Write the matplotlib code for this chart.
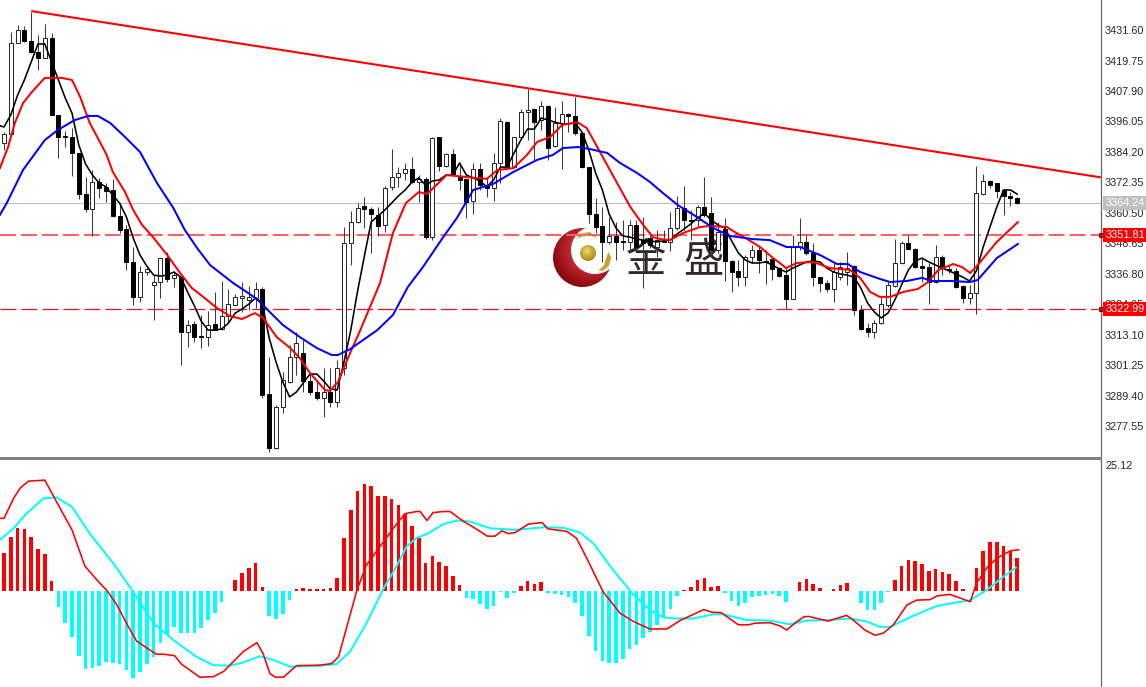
import numpy as np
import matplotlib
matplotlib.use("Agg")
import matplotlib.pyplot as plt
from matplotlib.patches import Circle, Polygon, Rectangle

# ---------- candles ----------
opens = [3387.7,3391.2,3426.6,3431.6,3427.3,3423.1,3420.7,3428.5,3398.6,3390.4,3390.0,3383.8,3367.8,3362.0,3372.5,3370.6,3369.4,3359.3,3354.2,3341.4,
3327.8,3337.5,3332.4,3333.6,3342.9,3335.2,3335.5,3314.2,3317.3,3312.6,3312.2,3317.3,3315.3,3320.4,3324.7,3327.4,3326.6,3327.4,3330.9,3290.0,
3269.0,3285.0,3294.7,3304.4,3306.0,3295.1,3290.8,3288.5,3290.8,3286.9,3300.1,3348.8,3357.0,3363.2,3362.0,3359.7,3355.8,3370.6,3374.4,3376.0,
3377.6,3372.5,3373.7,3351.1,3390.0,3378.7,3383.4,3374.4,3373.7,3365.1,3377.6,3371.3,3370.2,3379.9,3395.8,3378.3,3390.0,3399.7,3400.9,3396.6,
3402.0,3386.5,3395.4,3399.0,3398.2,3391.6,3378.3,3360.0,3355.4,3349.2,3351.5,3349.6,3349.2,3355.8,3349.9,3350.7,3347.2,3349.6,3349.2,3354.6,
3362.4,3357.7,3357.7,3362.8,3360.4,3346.0,3354.2,3341.8,3337.9,3335.5,3343.3,3346.0,3341.8,3342.5,3339.0,3336.3,3327.0,3347.2,3349.2,3344.9,
3335.5,3333.2,3330.9,3335.5,3337.5,3339.8,3322.7,3315.7,3314.2,3317.6,3324.6,3332.0,3341.0,3348.8,3346.4,3339.8,3339.4,3333.6,3343.3,3338.7,
3337.9,3332.0,3327.4,3329.3,3367.8,3372.9,3372.1,3369.4,3367.1,3366.3]
highs = [3391.9,3430.8,3433.6,3433.2,3438.6,3429.7,3434.0,3430.5,3398.6,3392.3,3393.5,3383.8,3374.4,3377.2,3374.1,3372.1,3373.7,3364.3,3355.8,3347.2,
3339.8,3339.8,3336.3,3342.9,3345.3,3337.5,3335.5,3318.8,3318.4,3320.8,3322.3,3329.7,3334.0,3330.9,3328.9,3333.6,3332.0,3333.6,3331.6,3304.4,
3285.8,3298.6,3309.1,3314.2,3311.0,3298.2,3295.5,3300.1,3300.1,3303.3,3355.0,3361.2,3364.3,3366.7,3362.8,3362.8,3370.9,3385.3,3378.3,3379.9,
3382.2,3375.2,3374.4,3390.0,3390.0,3383.8,3385.3,3379.1,3373.7,3379.9,3379.9,3374.4,3383.8,3397.4,3396.2,3390.0,3400.9,3408.7,3401.3,3404.0,
3402.4,3401.7,3404.0,3399.3,3405.6,3391.9,3378.3,3366.3,3362.8,3358.9,3356.9,3357.7,3357.7,3357.7,3358.9,3353.0,3353.8,3353.8,3360.8,3367.1,
3370.9,3361.6,3363.6,3374.4,3366.7,3357.0,3358.5,3342.2,3342.2,3344.1,3348.0,3347.6,3346.0,3343.3,3339.4,3339.0,3351.9,3358.5,3351.9,3348.8,
3335.5,3334.4,3341.0,3341.4,3345.3,3340.2,3324.7,3317.6,3318.8,3327.8,3333.6,3350.3,3349.5,3351.9,3346.8,3342.9,3341.0,3348.0,3344.1,3340.2,
3339.0,3332.4,3332.4,3378.7,3375.6,3373.3,3372.1,3369.8,3368.6,3366.7]
lows = [3384.9,3390.4,3426.6,3426.9,3422.7,3416.0,3420.7,3398.6,3381.8,3386.1,3374.8,3365.9,3360.8,3351.5,3366.3,3364.7,3358.9,3352.7,3338.3,3324.7,
3325.8,3336.3,3318.8,3327.4,3333.6,3331.6,3301.3,3308.3,3310.3,3307.9,3308.7,3314.9,3314.9,3318.0,3324.7,3321.9,3322.7,3323.5,3288.5,3267.5,
3268.6,3282.6,3294.3,3297.4,3290.8,3289.6,3287.7,3281.1,3285.0,3285.0,3297.4,3340.2,3356.5,3354.6,3344.9,3351.5,3353.0,3369.4,3370.6,3373.3,
3372.1,3364.7,3350.3,3349.9,3376.8,3378.3,3375.2,3369.4,3358.5,3360.0,3369.4,3366.7,3365.1,3372.1,3377.9,3377.9,3390.0,3388.8,3381.1,3392.7,
3381.1,3386.1,3377.6,3391.9,3390.8,3377.9,3356.5,3352.7,3341.4,3348.4,3342.2,3346.0,3346.0,3346.0,3331.3,3346.8,3343.3,3349.2,3345.7,3353.8,
3353.8,3350.0,3355.0,3358.9,3344.1,3344.9,3334.0,3329.7,3332.0,3332.0,3341.0,3337.1,3332.8,3334.4,3335.5,3323.1,3327.0,3346.0,3344.1,3332.0,
3329.7,3329.7,3325.8,3334.4,3332.4,3320.8,3314.9,3312.2,3311.8,3317.3,3323.9,3331.6,3340.6,3346.4,3339.0,3333.6,3325.0,3333.2,3336.3,3337.1,
3331.3,3325.4,3325.0,3321.2,3367.4,3370.2,3366.3,3359.7,3363.2,3364.0]
closes = [3391.2,3426.6,3431.6,3427.3,3423.1,3420.7,3428.5,3398.6,3390.0,3390.0,3383.8,3367.8,3362.0,3372.5,3370.2,3369.0,3359.3,3353.8,3341.4,3327.8,
3337.5,3338.7,3333.6,3342.9,3334.8,3336.3,3314.2,3316.9,3312.2,3312.2,3316.9,3314.9,3320.4,3325.0,3327.8,3328.2,3327.8,3330.9,3289.6,3269.0,
3285.0,3295.5,3304.4,3309.9,3295.1,3290.8,3288.5,3290.8,3286.9,3300.1,3348.8,3357.0,3362.4,3362.0,3360.0,3355.4,3370.2,3374.4,3376.0,3377.6,
3372.5,3373.7,3351.1,3389.6,3378.7,3383.4,3375.6,3373.3,3364.7,3377.6,3371.3,3370.2,3379.9,3396.2,3378.3,3390.0,3399.7,3400.5,3395.8,3402.0,
3385.7,3395.4,3399.0,3398.2,3391.6,3378.3,3360.0,3355.0,3349.2,3351.5,3349.2,3349.2,3355.8,3347.2,3348.8,3348.0,3349.9,3349.2,3354.6,3362.4,
3357.7,3357.3,3362.8,3359.7,3346.0,3353.0,3341.8,3337.5,3335.5,3343.3,3346.0,3342.2,3341.4,3338.7,3335.9,3327.0,3347.2,3349.2,3344.9,3335.5,
3333.2,3330.9,3337.5,3339.4,3339.0,3322.7,3315.3,3314.2,3317.6,3325.0,3332.4,3341.0,3348.8,3346.4,3339.4,3339.0,3333.6,3343.3,3339.4,3338.3,
3331.7,3327.4,3329.3,3368.2,3372.9,3371.3,3369.0,3367.1,3366.3,3364.3]

# ---------- moving averages ----------
ma_fast = [3394.7,3393.9,3398.6,3406.3,3412.2,3419.2,3426.2,3426.2,3419.2,3412.2,3405.2,3399.3,3386.9,3379.5,3375.2,3372.1,3370.6,3367.4,3364.3,3358.9,
3350.7,3344.1,3339.8,3336.3,3335.9,3336.3,3337.5,3335.5,3329.7,3324.3,3318.4,3314.9,3314.9,3315.3,3317.6,3321.5,3323.1,3325.0,3327.4,3325.0,
3311.8,3302.5,3294.7,3288.9,3290.8,3294.3,3297.8,3297.8,3295.1,3292.0,3291.6,3302.5,3314.9,3330.1,3343.7,3357.0,3359.3,3361.6,3364.3,3367.1,
3369.4,3372.5,3374.1,3371.3,3372.9,3373.3,3375.2,3375.2,3379.9,3375.2,3374.1,3372.9,3370.6,3373.3,3378.3,3378.3,3383.8,3388.8,3393.1,3393.1,
3397.4,3396.6,3395.8,3395.1,3395.1,3395.5,3391.9,3384.9,3376.0,3369.4,3360.0,3354.6,3351.5,3351.1,3350.3,3349.9,3349.6,3349.2,3349.6,3349.9,
3352.3,3354.2,3356.2,3358.5,3360.4,3357.7,3355.8,3354.6,3349.6,3344.9,3342.2,3341.0,3341.0,3341.4,3340.2,3338.7,3337.5,3339.0,3340.2,3341.4,
3341.8,3341.4,3339.0,3337.5,3336.7,3336.3,3335.5,3331.3,3325.4,3321.9,3319.6,3321.5,3326.6,3332.4,3338.3,3341.8,3342.9,3341.4,3340.2,3339.0,
3337.9,3336.7,3335.5,3334.0,3337.9,3347.2,3355.0,3362.8,3369.4,3369.4,3367.8]

ma_mid_bar = [-0.6,0.6,1.6,2.8,4.1,6.0,8.5,10.0,11.2,12.6,14.1,15.1,16.0,17.8,19.0,20.3,21.9,24.0,25.9,27.6,29.3,31.3,33.2,35.0,36.9,38.1,40.1,42.1,43.5,45.0,47.2,47.9,49.1,50.9,52.4,55.3,57.2,59.1,61.0,62.2,65.1,68.1,71.0,72.6,74.9,76.9,78.4,80.3,82.1,84.3,85.7,89.1,92.1,94.0,95.4,96.5,97.9,99.9,102.4,103.8,106.3,107.5,109.3,111.2,113.1,114.1,115.0,116.6,119.0,121.5,124.4,125.9,127.4,128.8,130.3,132.2,134.4,135.9,137.4,139.6,140.9,142.1,143.2,146.0,149.1]
ma_mid = [3377.9,3386.1,3395.5,3403.2,3407.5,3413.0,3413.0,3412.2,3405.6,3395.5,3388.1,3383.0,3376.4,3368.6,3361.6,3355.8,3351.1,3344.1,3337.1,3331.3,3327.8,3323.5,3320.4,3319.2,3321.5,3319.6,3312.2,3307.9,3304.0,3298.2,3291.6,3291.2,3294.7,3306.0,3314.9,3333.2,3352.7,3364.3,3368.6,3367.8,3375.2,3374.4,3373.7,3377.2,3377.9,3383.0,3388.1,3390.0,3394.7,3395.8,3393.5,3377.2,3362.8,3355.8,3351.1,3350.3,3349.9,3352.7,3355.0,3355.4,3355.0,3353.0,3350.3,3347.2,3342.9,3341.0,3339.0,3341.0,3341.4,3339.0,3338.3,3335.2,3329.7,3327.8,3327.8,3329.7,3330.9,3333.6,3338.3,3340.6,3339.4,3337.1,3340.2,3349.2,3356.9]

ma_slow_bar = [-0.6,0.4,2.8,6.0,7.9,10.4,12.4,13.8,15.6,17.8,20.0,22.5,24.9,26.6,28.4,30.3,33.7,37.2,39.1,41.0,43.5,46.0,48.2,49.1,50.9,54.9,57.2,59.4,61.6,64.6,66.6,69.0,71.9,74.9,78.4,80.7,82.2,84.4,86.2,88.7,90.6,93.1,95.0,96.9,99.1,101.9,104.3,106.8,110.1,112.6,115.1,117.1,120.0,122.5,124.1,125.9,128.8,130.3,132.8,135.0,136.5,139.1,142.1,143.2,146.0,149.1]
ma_slow = [3359.7,3364.3,3377.2,3388.8,3392.7,3396.6,3398.2,3398.2,3395.5,3390.0,3384.2,3372.1,3362.4,3353.8,3346.8,3340.2,3333.2,3327.0,3321.9,3316.9,3312.2,3307.9,3305.2,3305.2,3307.5,3314.9,3320.8,3331.7,3339.4,3351.1,3358.5,3369.4,3371.7,3376.4,3381.1,3383.0,3385.7,3386.1,3385.3,3383.8,3379.9,3376.0,3372.5,3368.2,3363.5,3358.9,3354.6,3351.5,3350.3,3349.9,3347.2,3347.2,3344.1,3340.6,3340.6,3337.5,3334.8,3333.6,3334.0,3335.2,3334.0,3334.0,3333.6,3334.4,3342.9,3348.4]

trend_bar = [4, 161.3]
trend_price = [3439.0, 3374.3]
level_upper = 3351.81
level_lower = 3322.99
level_last = 3364.24
price_ticks = [3431.60,3419.75,3407.90,3396.05,3384.20,3372.35,3360.50,3348.65,3336.80,3324.95,3313.10,3301.25,3289.40,3277.55]

# ---------- MACD panel ----------
hist = [7.25,10.17,11.95,11.76,10.17,7.95,6.93,1.84,-3.05,-6.10,-8.90,-12.46,-15.0,-14.69,-14.37,-13.54,-13.8,-13.98,-15.13,-16.72,
-15.58,-13.98,-12.71,-9.92,-8.52,-6.93,-8.14,-8.01,-8.01,-7.18,-5.53,-4.2,-2.16,-0.13,1.97,3.37,4.32,5.21,0.7,-4.77,
-5.4,-4.39,-1.78,0.25,0.45,0.32,0.25,0.32,0.45,2.48,9.98,15.38,19.0,20.34,20.03,18.12,17.99,17.48,16.34,14.69,
12.4,10.11,5.21,6.55,5.4,4.7,2.86,1.08,-1.46,-1.59,-2.54,-3.43,-2.86,-0.25,-1.46,-0.45,0.89,1.78,1.27,1.65,
-0.45,-0.7,-0.83,-1.21,-2.29,-4.9,-8.65,-11.44,-13.41,-13.73,-13.73,-13.03,-11.13,-10.3,-9.03,-7.95,-6.55,-5.28,-3.5,-1.08,
0.06,0.7,1.97,2.35,0.76,0.89,-0.45,-1.97,-2.86,-2.29,-1.21,-0.95,-0.83,-0.7,-1.08,-2.16,-0.13,1.59,2.22,1.27,
0.51,-0.06,0.32,1.08,1.46,-0.13,-2.29,-3.69,-3.62,-2.35,-0.19,2.03,4.77,5.79,5.66,5.09,3.75,4.13,3.62,3.12,
1.84,0.32,-0.13,4.32,7.63,9.28,9.28,8.52,7.63,6.17]

macd_red_bar = [-0.6,0,1.4,2.4,3.6,5.0,6.0,8.0,10.0,11.9,13.9,15.1,16.6,18.3,19.5,21.2,22.4,23.4,25.1,26.1,28.8,30.8,32.3,35.2,37.2,38.1,39.1,39.9,41.1,43.0,46.5,48.2,49.2,51.9,53.3,58.0,59.0,60.7,61.2,62.2,63.1,64.6,65.6,67.6,68.8,71.1,72.2,73.2,74.2,75.2,77.1,79.1,80.0,82.8,84.2,85.7,88.1,90.6,92.6,95.0,97.5,99.4,101.4,102.9,104.1,105.5,108.0,109.5,110.4,112.6,114.1,115.1,116.3,117.6,118.3,121.2,123.9,124.9,126.6,128.1,129.3,130.8,132.8,134.2,136.2,137.2,139.1,142.1,143.0,144.5,146.0,148.0,149.2]
macd_red = [13.8,13.8,17.6,19.6,20.9,21.0,21.1,16.3,11.6,4.7,1.7,0.1,-2.7,-6.9,-9.6,-11.1,-12.1,-12.1,-12.4,-14.0,-16.5,-16.4,-15.4,-11.6,-9.9,-12.0,-15.8,-16.5,-16.5,-14.3,-14.2,-13.9,-12.6,0.1,4.9,13.2,14.7,15.1,15.1,13.4,14.9,15.1,15.1,13.2,12.3,10.4,10.4,11.4,10.9,11.1,12.7,13.0,11.8,11.3,10.0,6.2,-0.2,-4.3,-5.9,-7.3,-7.3,-5.7,-4.5,-3.6,-4.1,-4.2,-6.5,-6.5,-6.2,-6.1,-6.7,-7.5,-6.2,-5.0,-4.9,-5.8,-4.7,-5.6,-7.5,-8.5,-8.1,-6.5,-2.7,-1.8,-1.7,-1.0,-0.7,-2.1,1.4,4.3,6.2,7.6,7.8]

macd_cyan_bar = [-0.6,1.4,3.3,5.8,7.7,10.0,12.6,16.1,19.0,22.0,24.9,28.3,30.8,33.2,35.2,37.6,39.6,42.1,46.5,48.9,50.9,53.3,55.8,57.7,59.2,60.7,62.2,64.6,66.6,68.5,71.5,75.4,79.3,82.3,84.7,86.7,89.6,92.6,95.0,97.0,98.9,101.4,104.3,105.8,109.2,112.6,115.6,118.0,121.0,124.4,126.9,128.8,130.3,133.7,137.2,142.1,144.5,147.0,148.8]
macd_cyan = [9.7,11.9,14.7,17.6,17.8,16.0,10.9,5.2,-0.2,-6.2,-9.4,-12.6,-14.2,-14.3,-13.7,-12.5,-13.2,-14.5,-14.3,-14.0,-11.6,-6.2,0.4,4.6,8.4,10.1,10.8,12.7,13.4,13.2,11.9,11.6,12.1,12.0,11.1,9.0,3.9,-0.8,-3.7,-5.1,-5.3,-5.3,-4.5,-4.5,-5.6,-5.7,-6.4,-5.7,-5.6,-5.3,-5.9,-6.9,-6.9,-4.8,-2.9,-1.8,0.1,2.7,4.4]
macd_top_label = "25.12"

# ---------- layout ----------
W, H = 1146, 687
AX_R = 1101
plt.rcParams['font.family'] = ['Liberation Sans', 'DejaVu Sans']
plt.rcParams['lines.scale_dashes'] = False
fig = plt.figure(figsize=(W / 100, H / 100), dpi=100, facecolor='white')

XLIM = (-4 / 6.8, (AX_R - 4) / 6.8)
bg = fig.add_axes([0, 0, 1, 1], zorder=0)
bg.set_xlim(0, W); bg.set_ylim(H, 0); bg.axis('off')
ax = fig.add_axes([0, (H - 456) / H, AX_R / W, 456 / H], zorder=1, facecolor='none')
ax2 = fig.add_axes([0, 0, AX_R / W, (H - 460) / H], zorder=1, facecolor='none')

# ---------- watermark logo ----------
def radial(cx, cy, r, c0, c1, fx, fy, fr, z):
    xs = np.linspace(cx - r, cx + r, 120)
    ys = np.linspace(cy - r, cy + r, 120)
    X, Y = np.meshgrid(xs, ys)
    t = np.clip(np.hypot(X - fx, Y - fy) / fr, 0, 1)[..., None]
    img = np.array(c0) * (1 - t) + np.array(c1) * t
    im = bg.imshow(img, extent=(cx - r, cx + r, cy + r, cy - r), zorder=z, aspect='auto', interpolation='bilinear')
    im.set_clip_path(Circle((cx, cy), r, transform=bg.transData))

radial(582.5, 257.5, 29.5, (0.98, 0.32, 0.34), (0.55, 0.03, 0.06), 590, 250, 38, 1)
bg.add_patch(Circle((595, 250), 24, fc='white', ec='none', zorder=2))
bg.add_patch(Polygon([(576, 239), (581.7, 233.3), (590, 232), (597.3, 237.7), (590, 235.7), (581.7, 236.7)], fc='#c4a437', ec='none', zorder=3))
bg.add_patch(Polygon([(598.3, 270.7), (604, 265), (608.3, 251.7), (611.3, 257.7), (609, 265.7), (603.3, 270.7)], fc='#c4a437', ec='none', zorder=3))
radial(588, 253, 8, (0.93, 0.85, 0.45), (0.68, 0.56, 0.10), 587, 251, 9, 3)
for ch, cx in (('金', 646), ('盛', 703.5)):
    bg.text(cx, 261, ch, family=['Noto Sans CJK SC', 'DejaVu Sans'], fontsize=29, color='#33262a',
            ha='center', va='center', zorder=4)
bg.set_xlim(0, W); bg.set_ylim(H, 0)

# ---------- price panel ----------
n = len(opens)
bars = np.arange(n)
o, hi, lo, cl = map(np.array, (opens, highs, lows, closes))
ax.vlines(bars, lo, hi, color='#3c3c3c', lw=0.75, zorder=2)
up = cl >= o
body_w = 0.6
ax.bar(bars[up], np.maximum(cl - o, 0.25)[up], bottom=o[up], width=body_w, fc='white', ec='#222222', lw=0.7, zorder=3)
ax.bar(bars[~up], np.maximum(o - cl, 0.5)[~up], bottom=cl[~up], width=body_w, fc='black', ec='black', lw=0.7, zorder=3)

ax.axhline(level_last, color='#bdbdbd', lw=0.8, zorder=1)
ax.axhline(level_upper, color='#ff5c5c', lw=1.4, ls=(0, (11.5, 3.6)), zorder=1)
ax.axhline(level_lower, color='#e8141c', lw=0.9, ls=(0, (11.5, 3.6)), zorder=1)

ax.plot(trend_bar, trend_price, color='#ff0000', lw=1.5, zorder=5, solid_capstyle='butt')
ax.plot(np.arange(-1, len(ma_fast) - 1), ma_fast, color='black', lw=1.15, zorder=6)
ax.plot(ma_mid_bar, ma_mid, color='#ff0000', lw=1.45, zorder=6)
ax.plot(ma_slow_bar, ma_slow, color='#0000ff', lw=1.45, zorder=6)

ax.set_xlim(*XLIM)
ax.set_ylim(3443.3 - 0.389 * 456, 3443.3)
ax.set_xticks([])
ax.yaxis.tick_right()
ax.set_yticks(price_ticks)
ax.set_yticklabels([f"{t:.2f}" for t in price_ticks])
ax.tick_params(axis='y', length=0, pad=2.9, labelsize=7.8, labelcolor='#262626')
for s in ('top', 'left', 'bottom'):
    ax.spines[s].set_visible(False)
ax.spines['right'].set_color('#666666')
ax.spines['right'].set_linewidth(0.9)

for lvl, fc, col in ((level_last, '#c0c0c0', 'white'), (level_upper, '#ff0000', 'white'), (level_lower, '#ff0000', 'white')):
    ax.annotate(f"{lvl:.2f}", xy=(1, lvl), xycoords=ax.get_yaxis_transform(), xytext=(3, 0),
                textcoords='offset points', ha='left', va='center', fontsize=7.8, color=col, zorder=10,
                bbox=dict(boxstyle='square,pad=0.18', fc=fc, ec='none'), annotation_clip=False)
for lvl in (level_upper, level_lower):
    ax.plot([1], [lvl], transform=ax.get_yaxis_transform(), marker='s', ms=3.2, mfc='#d00000', mec='#222222',
            mew=0.6, clip_on=False, zorder=9)

# ---------- MACD panel ----------
h = np.array(hist)
bb = np.arange(len(h))
ax2.bar(bb[h >= 0], h[h >= 0], width=0.55, color='#ff0000', lw=0, zorder=2)
ax2.bar(bb[h < 0], h[h < 0], width=0.55, color='#00ffff', lw=0, zorder=2)
ax2.plot(macd_cyan_bar, macd_cyan, color='#00ffff', lw=1.45, zorder=3)
ax2.plot(macd_red_bar, macd_red, color='#ff0000', lw=1.15, zorder=4)
ax2.set_xlim(*XLIM)
ax2.set_ylim((590.7 - 687) / 5.243, (590.7 - 460) / 5.243)
ax2.set_xticks([]); ax2.set_yticks([])
for s in ('top', 'left', 'bottom'):
    ax2.spines[s].set_visible(False)
ax2.spines['right'].set_color('#666666')
ax2.spines['right'].set_linewidth(0.9)
ax2.text(1 + 4 / AX_R, 1 - 1 / (H - 460), macd_top_label, transform=ax2.transAxes, ha='left', va='top', fontsize=7.8,
         color='#262626', clip_on=False)

# separator between the panels
fig.add_artist(Rectangle((0, (H - 459.5) / H), (AX_R + 0.5) / W, 3 / H, transform=fig.transFigure, fc='#808080', ec='none', zorder=5))

fig.savefig('out.png', dpi=100, facecolor='white')
